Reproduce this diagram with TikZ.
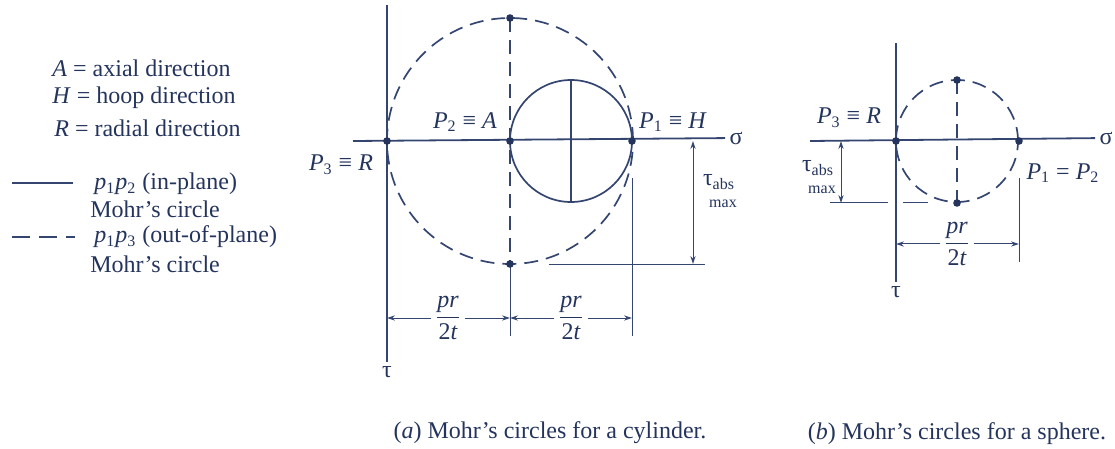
\documentclass[tikz,border=0pt]{standalone}
\usepackage{fontspec}
\setmainfont{Liberation Serif}
\usepackage{amsmath}
\usetikzlibrary{arrows.meta,calc}
\definecolor{InkBlue}{RGB}{36,52,92}
\definecolor{LineBlue}{RGB}{52,70,112}
\newcommand{\Pn}[1]{\textit{P}\textsubscript{#1}}
\newcommand{\pn}[1]{\textit{p}\textsubscript{#1}}
\newcommand{\prfrac}{$\displaystyle\frac{\textit{pr}}{\textup{2}\textit{t}}$}
\newcommand{\taumax}{τ\textsubscript{abs}\\[-3pt]\hspace*{4pt}{\fontsize{8}{9}\selectfont max}}
\tikzset{
  lbl/.style={text=InkBlue,font=\fontsize{12}{14}\selectfont,inner sep=2pt},
  axisline/.style={draw=LineBlue,line width=0.9pt},
  mohr/.style={draw=LineBlue,line width=0.85pt},
  mohrdash/.style={draw=LineBlue,line width=0.85pt,dash pattern=on 7pt off 4pt},
  legdash/.style={draw=LineBlue,line width=0.85pt,dash pattern=on 9pt off 4.5pt},
  extline/.style={draw=LineBlue,line width=0.5pt},
  dimarr/.style={-{Stealth[length=4pt,width=2.6pt]},draw=LineBlue,line width=0.5pt},
  dimboth/.style={{Stealth[length=4pt,width=2.6pt]}-{Stealth[length=4pt,width=2.6pt]},
                  draw=LineBlue,line width=0.5pt},
  dot/.style={circle,fill=InkBlue,inner sep=0pt,minimum size=3.8pt},
}

\begin{document}
\begin{tikzpicture}[x=0.5pt,y=-0.5pt]
  \useasboundingbox (0,0) rectangle (1115,449);

  % legend
  \node[lbl,anchor=west] (legA) at (48,68) {\textit{A} = axial direction};
  \node[lbl,anchor=west] (legH) at (48,98) {\textit{H} = hoop direction};
  \node[lbl,anchor=west] (legR) at (50,128) {\textit{R} = radial direction};
  \draw[mohr] (12,183) -- (73,183);
  \node[lbl,anchor=west] (legIn) at (90,184) {\pn{1}\pn{2} (in-plane)};
  \node[lbl,anchor=west] (legInB) at (86,209) {Mohr's circle};
  \draw[legdash] (12,237) -- (75,237);
  \node[lbl,anchor=west] (legOut) at (90,237) {\pn{1}\pn{3} (out-of-plane)};
  \node[lbl,anchor=west] (legOutB) at (86,264) {Mohr's circle};

  % (a) cylinder
  \coordinate (P3a) at (387,141);
  \coordinate (P2a) at (510,141);
  \coordinate (P1a) at (632,141);
  \coordinate (Ca) at (571,141);
  \coordinate (topA) at (510,18);
  \coordinate (botA) at (510,264);
  \node[lbl] (sigA) at (736,138) {σ};
  \node[lbl] (tauA) at (387,372) {τ};
  \draw[axisline] (353,141) -- (sigA);
  \draw[axisline] (387,5) -- (tauA);
  \draw[mohrdash] (P2a) circle[radius=61.5pt];
  \draw[mohr] (Ca) circle[radius=30.5pt];
  \draw[mohr] (571,80) -- (571,202);
  \draw[mohrdash] (topA) -- (botA);
  \draw[extline] (botA) -- (510,336);
  \draw[extline] (632,178) -- (632,336);
  \draw[extline] (549,264) -- (705,264);
  \coordinate (tA1) at (693,141);
  \coordinate (tA2) at (693,264);
  \draw[dimboth] (tA1) -- (tA2);
  \node[lbl,align=center] (tmaxA) at (719,191) {\taumax};
  \node[lbl] (fracA1) at (448,318) {\prfrac};
  \node[lbl] (fracA2) at (571,318) {\prfrac};
  \coordinate (dA1) at (387,318);
  \coordinate (dA2) at (510,318);
  \coordinate (dA3) at (632,318);
  \draw[dimarr] (fracA1) -- (dA1);
  \draw[dimarr] (fracA1) -- (dA2);
  \draw[dimarr] (fracA2) -- (dA2);
  \draw[dimarr] (fracA2) -- (dA3);
  \node[lbl] (labP2a) at (465,122) {\Pn{2} ≡ \textit{A}};
  \node[lbl] (labP1a) at (673,122) {\Pn{1} ≡ \textit{H}};
  \node[lbl] (labP3a) at (341,165) {\Pn{3} ≡ \textit{R}};
  \node[dot] (dP3a) at (P3a) {};
  \node[dot] (dP2a) at (P2a) {};
  \node[dot] (dP1a) at (P1a) {};
  \node[dot] (dTopA) at (topA) {};
  \node[dot] (dBotA) at (botA) {};
  \node[lbl] (capA) at (550,433) {(\textit{a}) Mohr's circles for a cylinder.};

  % (b) sphere
  \coordinate (P3b) at (896,141);
  \coordinate (P1b) at (1019,141);
  \coordinate (Cb) at (957,141);
  \coordinate (topB) at (957,80);
  \coordinate (botB) at (957,203);
  \node[lbl] (sigB) at (1106,138) {σ};
  \node[lbl] (tauB) at (896,292) {τ};
  \draw[axisline] (810,141) -- (sigB);
  \draw[axisline] (896,43) -- (tauB);
  \draw[mohrdash] (Cb) circle[radius=30.5pt];
  \draw[mohrdash] (topB) -- (botB);
  \draw[extline] (1019,178) -- (1019,262);
  \draw[extline] (830,203) -- (888,203);
  \draw[extline] (903,203) -- (928,203);
  \coordinate (tB1) at (841,141);
  \coordinate (tB2) at (841,203);
  \draw[dimboth] (tB1) -- (tB2);
  \node[lbl,align=center] (tmaxB) at (818,177) {\taumax};
  \node[lbl] (fracB) at (957,244) {\prfrac};
  \coordinate (dB1) at (896,244);
  \coordinate (dB2) at (1019,244);
  \draw[dimarr] (fracB) -- (dB1);
  \draw[dimarr] (fracB) -- (dB2);
  \node[lbl] (labP3b) at (849,118) {\Pn{3} ≡ \textit{R}};
  \node[lbl] (labP1b) at (1063,173) {\Pn{1} = \Pn{2}};
  \node[dot] (dP3b) at (P3b) {};
  \node[dot] (dP1b) at (P1b) {};
  \node[dot] (dTopB) at (topB) {};
  \node[dot] (dBotB) at (botB) {};
  \node[lbl] (capB) at (957,434) {(\textit{b}) Mohr's circles for a sphere.};
\end{tikzpicture}
\end{document}
